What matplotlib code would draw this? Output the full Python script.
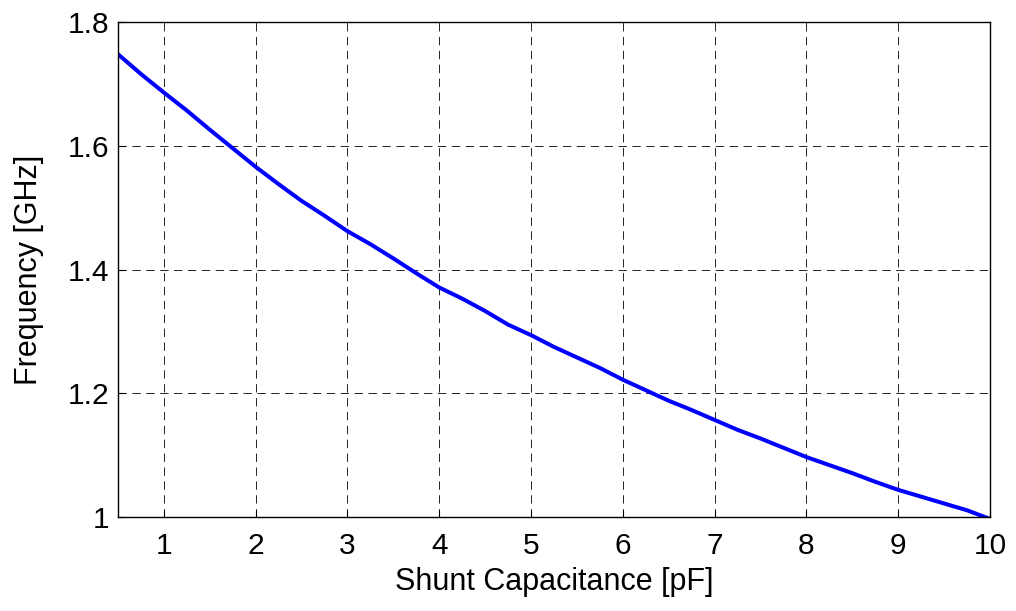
import matplotlib
matplotlib.use("Agg")
import matplotlib.pyplot as plt

# Shunt capacitance sweep [pF] and resulting resonant frequency [GHz]
capacitance_pf = [0.5, 0.75, 1.0, 1.25, 1.5, 1.75, 2.0, 2.25, 2.5, 2.75,
                  3.0, 3.25, 3.5, 3.75, 4.0, 4.25, 4.5, 4.75, 5.0, 5.25,
                  5.5, 5.75, 6.0, 6.25, 6.5, 6.75, 7.0, 7.25, 7.5, 7.75,
                  8.0, 8.25, 8.5, 8.75, 9.0, 9.25, 9.5, 9.75, 10.0]
frequency_ghz = [1.748, 1.716, 1.686, 1.657, 1.626, 1.596, 1.566, 1.538, 1.511, 1.487,
                 1.462, 1.441, 1.418, 1.394, 1.371, 1.353, 1.333, 1.311, 1.294, 1.275,
                 1.258, 1.241, 1.222, 1.205, 1.188, 1.173, 1.157, 1.141, 1.127, 1.112,
                 1.097, 1.084, 1.071, 1.057, 1.044, 1.033, 1.022, 1.011, 0.997]

x_ticks = [1, 2, 3, 4, 5, 6, 7, 8, 9, 10]
y_ticks = [1.0, 1.2, 1.4, 1.6, 1.8]
y_tick_labels = ["1", "1.2", "1.4", "1.6", "1.8"]

plt.rcParams["font.family"] = ["Liberation Sans", "DejaVu Sans"]
plt.rcParams["lines.scale_dashes"] = False

fig = plt.figure(figsize=(10.16, 6.11), dpi=100)
ax = fig.add_axes([0.1161, 0.1537, 0.8583, 0.8103])

ax.plot(capacitance_pf, frequency_ghz, color="#0000ff", lw=2.9,
        solid_joinstyle="round", solid_capstyle="round")

ax.set_xlim(0.5, 10)
ax.set_ylim(1.0, 1.8)
ax.set_xticks(x_ticks)
ax.set_yticks(y_ticks)
ax.set_yticklabels(y_tick_labels)

ax.grid(True, color="black", linestyle=(0, (6, 4)), linewidth=0.6)
ax.set_axisbelow(True)

for spine in ax.spines.values():
    spine.set_linewidth(1.0)
    spine.set_color("black")

ax.tick_params(direction="in", length=5, width=0.8, labelsize=21.5,
               top=False, right=False)
ax.tick_params(axis="x", pad=11)
ax.tick_params(axis="y", pad=6)

ax.set_xlabel("Shunt Capacitance [pF]", fontsize=22, labelpad=5)
ax.set_ylabel("Frequency [GHz]", fontsize=22, labelpad=17)

fig.savefig("out.png", dpi=100)
